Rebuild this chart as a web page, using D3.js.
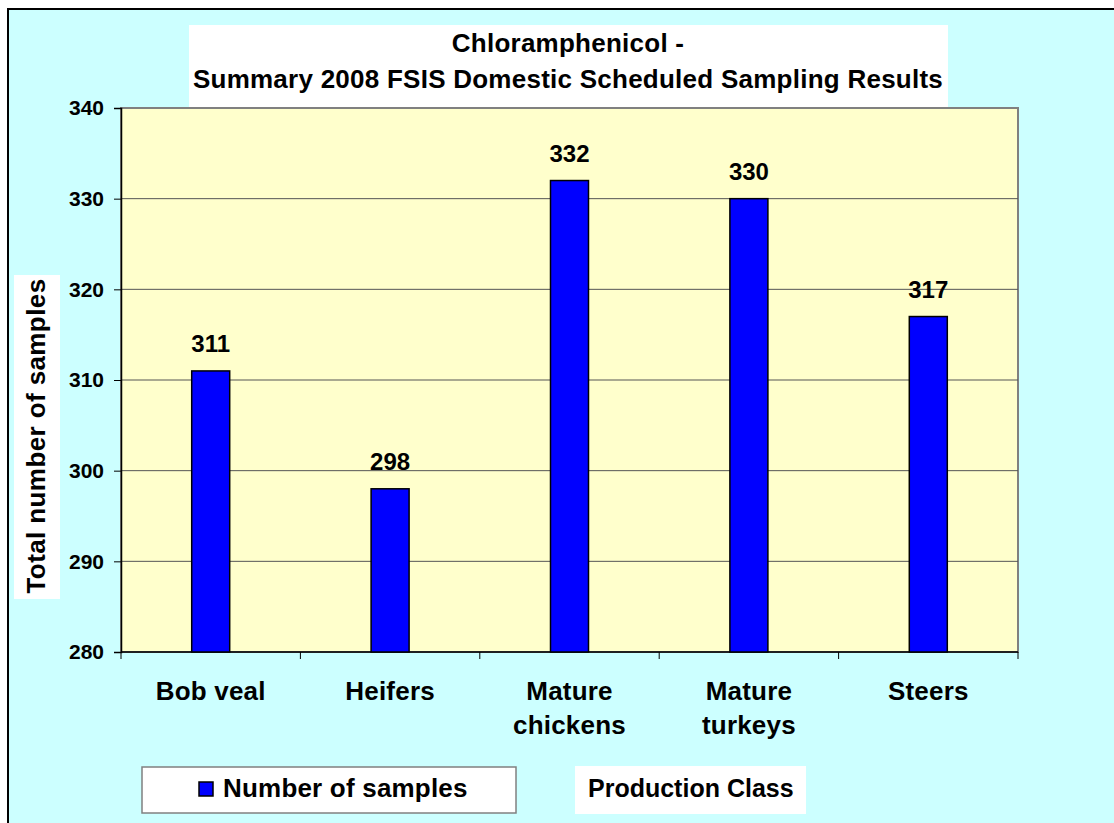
<!DOCTYPE html>
<html>
<head>
<meta charset="utf-8">
<script src="https://cdn.jsdelivr.net/npm/d3@7"></script>
<style>
  body { margin: 0; background: #fff; }
  svg { display: block; font-family: "Liberation Sans", Arial, sans-serif; font-weight: bold; }
</style>
</head>
<body>
<svg width="1114" height="823"></svg>
<script>
const categories = [["Bob veal"], ["Heifers"], ["Mature", "chickens"], ["Mature", "turkeys"], ["Steers"]]
const values = [311, 298, 332, 330, 317]
const yTicks = [280, 290, 300, 310, 320, 330, 340]
const titleLines = ["Chloramphenicol -", "Summary 2008 FSIS Domestic Scheduled Sampling Results"]
const seriesName = "Number of samples"
const xTitle = "Production Class"
const yTitle = "Total number of samples"

const PLOT_LEFT = 121
const PLOT_RIGHT = 1018
const PLOT_TOP = 108
const PLOT_BOTTOM = 652
const BAR_W = 38

const svg = d3.select("svg")

// outer chart area
svg.append("rect")
    .attr("x", 8).attr("y", 9)
    .attr("width", 1120).attr("height", 830)
    .attr("fill", "#ccffff")
    .attr("stroke", "#000")
    .attr("stroke-width", 2)

const x = d3.scaleBand()
    .domain(d3.range(categories.length))
    .range([PLOT_LEFT, PLOT_RIGHT])

const y = d3.scaleLinear()
    .domain([280, 340])
    .range([PLOT_BOTTOM, PLOT_TOP])

// plot area
svg.append("rect")
    .attr("x", PLOT_LEFT).attr("y", PLOT_TOP)
    .attr("width", PLOT_RIGHT - PLOT_LEFT)
    .attr("height", PLOT_BOTTOM - PLOT_TOP)
    .attr("fill", "#ffffcc")
    .attr("stroke", "#808080")
    .attr("stroke-width", 2)

// gridlines
svg.append("g")
    .selectAll("line")
    .data(yTicks.filter(t => t > 280 && t < 340))
    .join("line")
    .attr("x1", PLOT_LEFT).attr("x2", PLOT_RIGHT)
    .attr("y1", d => y(d)).attr("y2", d => y(d))
    .attr("stroke", "#555")
    .attr("stroke-width", 1)

// title box
svg.append("rect")
    .attr("x", 189).attr("y", 25)
    .attr("width", 759).attr("height", 82)
    .attr("fill", "#fff")

svg.append("g")
    .selectAll("text")
    .data(titleLines)
    .join("text")
    .attr("x", 568)
    .attr("y", (d, i) => 52 + i * 36)
    .attr("text-anchor", "middle")
    .style("font-size", "26px")
    .style("letter-spacing", "0.25px")
    .text(d => d)

// y axis
const yAxis = svg.append("g")
    .attr("transform", `translate(${PLOT_LEFT},0)`)
    .call(d3.axisLeft(y).tickValues(yTicks).tickSize(7).tickPadding(10).tickFormat(d3.format("d")))
yAxis.select(".domain").attr("stroke", "#000").attr("stroke-width", 1.5)
yAxis.selectAll(".tick line").attr("stroke", "#000")
yAxis.selectAll(".tick text")
    .attr("fill", "#000")
    .style("font-size", "21px")
    .style("font-family", "'Liberation Sans', Arial, sans-serif")
    .style("font-weight", "bold")

// x axis
const xAxis = svg.append("g")
    .attr("transform", `translate(0,${PLOT_BOTTOM})`)
xAxis.append("line")
    .attr("x1", PLOT_LEFT).attr("x2", PLOT_RIGHT)
    .attr("stroke", "#000").attr("stroke-width", 1.5)
xAxis.selectAll("line.tick")
    .data(d3.range(categories.length + 1))
    .join("line")
    .attr("class", "tick")
    .attr("x1", i => PLOT_LEFT + i * x.bandwidth())
    .attr("x2", i => PLOT_LEFT + i * x.bandwidth())
    .attr("y1", 0).attr("y2", 7)
    .attr("stroke", "#000")

svg.append("g")
    .selectAll("text")
    .data(categories)
    .join("text")
    .attr("x", (d, i) => x(i) + x.bandwidth() / 2)
    .attr("y", 700)
    .attr("text-anchor", "middle")
    .style("font-size", "26px")
    .style("letter-spacing", "0.2px")
    .each(function(d) {
        d3.select(this).selectAll("tspan")
            .data(d)
            .join("tspan")
            .attr("x", d3.select(this).attr("x"))
            .attr("dy", (t, j) => j === 0 ? 0 : 34)
            .text(t => t)
    })

// bars
svg.append("g")
    .selectAll("rect")
    .data(values)
    .join("rect")
    .attr("x", (d, i) => x(i) + x.bandwidth() / 2 - BAR_W / 2)
    .attr("y", d => y(d))
    .attr("width", BAR_W)
    .attr("height", d => PLOT_BOTTOM - y(d))
    .attr("fill", "#0000ff")
    .attr("stroke", "#000")
    .attr("stroke-width", 1.5)

svg.append("g")
    .selectAll("text")
    .data(values)
    .join("text")
    .attr("x", (d, i) => x(i) + x.bandwidth() / 2)
    .attr("y", d => y(d) - 19)
    .attr("text-anchor", "middle")
    .style("font-size", "24px")
    .text(d => d)

// y title
svg.append("rect")
    .attr("x", 14).attr("y", 275)
    .attr("width", 46).attr("height", 324)
    .attr("fill", "#fff")
svg.append("text")
    .attr("transform", "translate(45,436) rotate(-90)")
    .attr("text-anchor", "middle")
    .style("font-size", "26px")
    .style("letter-spacing", "0.4px")
    .text(yTitle)

// legend
const legend = svg.append("g")
legend.append("rect")
    .attr("x", 142).attr("y", 767)
    .attr("width", 374).attr("height", 46)
    .attr("fill", "#fff")
    .attr("stroke", "#808080")
    .attr("stroke-width", 1.5)
legend.append("rect")
    .attr("x", 199).attr("y", 782)
    .attr("width", 14).attr("height", 14)
    .attr("fill", "#0000ff")
    .attr("stroke", "#000")
    .attr("stroke-width", 1.5)
legend.append("text")
    .attr("x", 223).attr("y", 797)
    .style("font-size", "26px")
    .style("letter-spacing", "0.2px")
    .text(seriesName)

// x title
svg.append("rect")
    .attr("x", 575).attr("y", 766)
    .attr("width", 231).attr("height", 48)
    .attr("fill", "#fff")
svg.append("text")
    .attr("x", 588).attr("y", 797)
    .style("font-size", "25px")
    .text(xTitle)
</script>
</body>
</html>
